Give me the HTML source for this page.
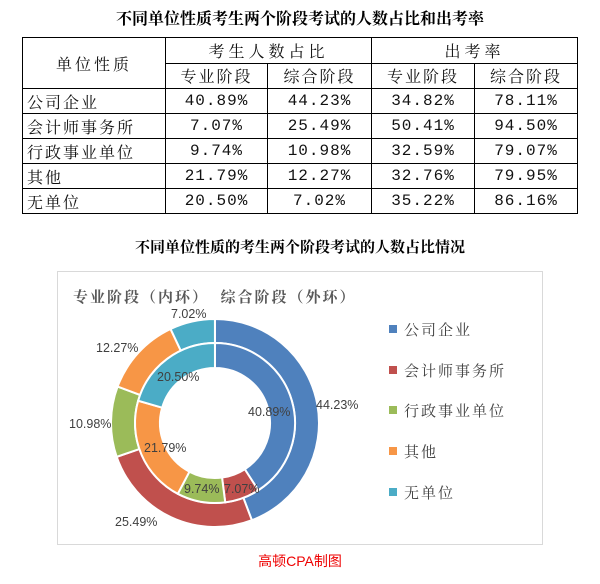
<!DOCTYPE html>
<html><head><meta charset="utf-8"><style>
body{margin:0;width:600px;height:584px;background:#fff;position:relative;font-family:"Liberation Serif","Noto Serif CJK SC",serif;overflow:hidden}
.t{position:absolute;white-space:nowrap}
table{position:absolute;left:22px;top:37px;border-collapse:collapse;width:556px;font-family:"Liberation Mono","Noto Serif CJK SC",serif;font-size:16px;color:#111}
td{border:1.5px solid #000;height:24px;padding:0;text-align:center;letter-spacing:1px}
td.l{text-align:left;padding-left:4px;letter-spacing:2px}
</style></head><body>
<div class="t" style="left:0;width:600px;top:6px;text-align:center;font-weight:bold;font-size:16px;font-family:'Liberation Serif','Noto Serif CJK SC',serif">不同单位性质考生两个阶段考试的人数占比和出考率</div>
<table>
<tr><td rowspan="2" style="width:142px;height:50px;letter-spacing:3px">单位性质</td><td colspan="2" style="letter-spacing:4px">考生人数占比</td><td colspan="2" style="letter-spacing:4px">出考率</td></tr>
<tr><td style="width:101px;letter-spacing:2px">专业阶段</td><td style="width:103px;letter-spacing:2px">综合阶段</td><td style="width:102px;letter-spacing:2px">专业阶段</td><td style="letter-spacing:2px">综合阶段</td></tr>
<tr><td class="l">公司企业</td><td>40.89%</td><td>44.23%</td><td>34.82%</td><td>78.11%</td></tr>
<tr><td class="l">会计师事务所</td><td>7.07%</td><td>25.49%</td><td>50.41%</td><td>94.50%</td></tr>
<tr><td class="l">行政事业单位</td><td>9.74%</td><td>10.98%</td><td>32.59%</td><td>79.07%</td></tr>
<tr><td class="l">其他</td><td>21.79%</td><td>12.27%</td><td>32.76%</td><td>79.95%</td></tr>
<tr><td class="l">无单位</td><td>20.50%</td><td>7.02%</td><td>35.22%</td><td>86.16%</td></tr>
</table>
<div class="t" style="left:0;width:600px;top:236px;text-align:center;font-weight:bold;font-size:15px">不同单位性质的考生两个阶段考试的人数占比情况</div>
<div style="position:absolute;left:57px;top:271px;width:484px;height:272px;border:1px solid #d9d9d9"></div>
<div class="t" style="left:73px;top:286px;font-weight:bold;font-size:15px;color:#595959;letter-spacing:2px">专业阶段（内环）&nbsp;&nbsp;综合阶段（外环）</div>
<svg id="s" width="600" height="584" style="position:absolute;left:0;top:0" font-family="Liberation Sans, sans-serif" font-size="12.5" fill="#404040"></svg>
<div class="t" style="left:0;width:600px;top:551px;text-align:center;color:#e00;font-size:14px;font-family:'Liberation Sans','Noto Sans CJK SC',sans-serif">高顿CPA制图</div>
<script>
var C=["#4F81BD","#C0504D","#9BBB59","#F79646","#4BACC6"];
var s=document.getElementById('s'),cx=215,cy=423,h='';
function ring(v,r0,r1){var a=0;v.forEach(function(p,i){var a0=a*Math.PI/50,a1=(a+p)*Math.PI/50;a+=p;
function P(r,t){return (cx+r*Math.sin(t)).toFixed(2)+','+(cy-r*Math.cos(t)).toFixed(2)}
var lg=(a1-a0)>Math.PI?1:0;
h+='<path d="M'+P(r1,a0)+'A'+r1+','+r1+' 0 '+lg+' 1 '+P(r1,a1)+'L'+P(r0,a1)+'A'+r0+','+r0+' 0 '+lg+' 0 '+P(r0,a0)+'Z" fill="'+C[i]+'" stroke="#fff" stroke-width="2"/>';});}
ring([44.23,25.49,10.98,12.27,7.02],80,104);
ring([40.89,7.07,9.74,21.79,20.50],55,80);
var L=[["7.02%",171,318],["12.27%",96,352],["20.50%",157,381],["44.23%",316,409],["40.89%",248,416],["10.98%",69,428],["21.79%",144,452],["9.74%",184,493],["7.07%",224,493],["25.49%",115,526]];
L.forEach(function(l){h+='<text x="'+l[1]+'" y="'+l[2]+'">'+l[0]+'</text>'});
var N=["公司企业","会计师事务所","行政事业单位","其他","无单位"],Y=[329,370,410,451,492];
N.forEach(function(n,i){h+='<rect x="389" y="'+(Y[i]-4)+'" width="8" height="8" fill="'+C[i]+'"/><text x="404" y="'+(Y[i]+6)+'" font-size="15" font-family="Liberation Serif, Noto Serif CJK SC, serif" letter-spacing="2">'+n+'</text>'});
s.innerHTML=h;
</script>
</body></html>
